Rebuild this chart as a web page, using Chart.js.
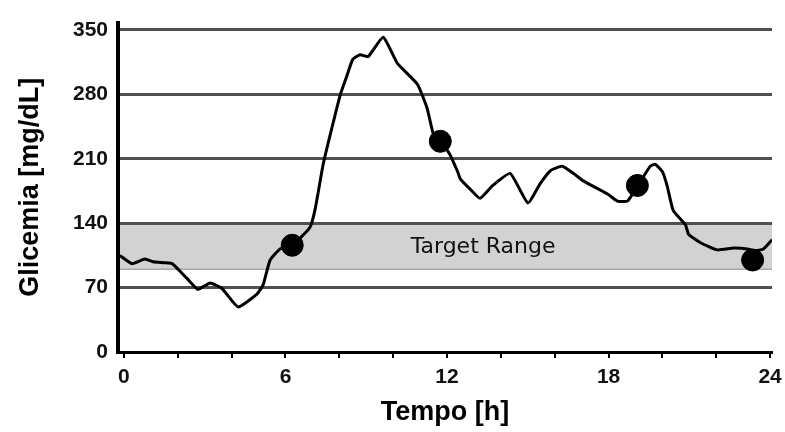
<!DOCTYPE html>
<html>
<head>
<meta charset="utf-8">
<script src="https://cdn.jsdelivr.net/npm/chart.js@4/dist/chart.umd.min.js"></script>
<style>
  html, body { margin: 0; padding: 0; background: #fff; }
  #wrap { width: 785px; height: 432px; }
</style>
</head>
<body>
<div id="wrap"><canvas id="c" width="785" height="432"></canvas></div>
<script>
// Continuous glucose trace over one day
const hours = [-0.15, 0.3, 0.78, 1.08, 1.5, 1.8, 2.34, 2.75, 3.2, 3.64, 4.24, 4.94, 5.17, 5.43, 5.8, 6.25,
  6.9, 7.1, 7.4, 7.66, 8.03, 8.28, 8.5, 8.77, 9.07, 9.63, 10.15, 10.9, 11.26, 11.5, 11.75,
  12.1, 12.38, 12.5, 12.86, 13.23, 13.7, 14.35, 15.0, 15.46, 15.84, 16.28, 16.7, 17.06, 17.95,
  18.33, 18.7, 19.07, 19.55, 19.74, 20.0, 20.18, 20.4, 20.86, 20.97, 21.4, 22.04, 22.64,
  23.16, 23.4, 23.75, 24.07];
const glucose = [105, 96, 101, 98, 97, 96, 80, 68, 75, 69, 49, 63, 73, 100, 112, 116,
  135, 155, 204, 236, 279, 300, 318, 323, 321, 342, 314, 291, 265, 236, 229,
  215, 197, 188, 177, 167, 181, 194, 162, 183, 197, 202, 194, 186, 172,
  164, 164, 180, 202, 204, 196, 180, 154, 138, 128, 119, 111, 113,
  112, 110, 112, 122];

// Finger-stick measurements
const sampleHours = [6.25, 11.75, 19.07, 23.35];
const sampleGlucose = [116, 229, 181, 100];

// Axis ticks and target band
const yTicks = [0, 70, 140, 210, 280, 350];
const xTicks = [0, 2, 4, 6, 8, 10, 12, 14, 16, 18, 20, 22, 24];
const xLabelled = [0, 6, 12, 18, 24];
const targetLow = 90;
const targetHigh = 140;
const targetLabel = 'Target Range';
const targetLabelHour = 13.34;
const targetLabelValue = 114;

const tracePoints = hours.map((h, i) => ({ x: h, y: glucose[i] }));
const samplePoints = sampleHours.map((h, i) => ({ x: h, y: sampleGlucose[i] }));

const targetBand = {
  id: 'targetBand',
  beforeDraw(chart) {
    const { ctx, chartArea, scales } = chart;
    const yTop = scales.y.getPixelForValue(targetHigh);
    const yBot = scales.y.getPixelForValue(targetLow);
    ctx.save();
    ctx.fillStyle = '#d2d2d2';
    ctx.fillRect(chartArea.left, yTop, chartArea.right - chartArea.left, yBot - yTop);
    ctx.strokeStyle = '#a8a8a8';
    ctx.lineWidth = 1.5;
    ctx.beginPath();
    ctx.moveTo(chartArea.left, yBot);
    ctx.lineTo(chartArea.right, yBot);
    ctx.stroke();
    ctx.restore();
  },
  beforeDatasetsDraw(chart) {
    const { ctx, scales } = chart;
    ctx.save();
    ctx.fillStyle = '#111';
    ctx.font = '22px "DejaVu Sans"';
    ctx.textAlign = 'center';
    ctx.textBaseline = 'middle';
    ctx.fillText(targetLabel, scales.x.getPixelForValue(targetLabelHour), scales.y.getPixelForValue(targetLabelValue));
    ctx.restore();
  }
};

const tickFont = { family: '"Liberation Sans", Arial, sans-serif', size: 21, weight: 'bold', lineHeight: 1.2 };
const titleFont = { family: '"Liberation Sans", Arial, sans-serif', size: 27, weight: 'bold', lineHeight: 1.2 };

new Chart(document.getElementById('c'), {
  type: 'line',
  data: {
    datasets: [
      {
        data: tracePoints,
        borderColor: '#000',
        borderWidth: 3,
        pointRadius: 0,
        tension: 0.15,
        fill: false,
        order: 2
      },
      {
        type: 'scatter',
        data: samplePoints,
        backgroundColor: '#000',
        borderColor: '#000',
        pointRadius: 11,
        pointHoverRadius: 11,
        order: 1
      }
    ]
  },
  options: {
    responsive: false,
    animation: false,
    events: [],
    layout: { padding: { top: 14, right: 13, left: 0, bottom: 0 } },
    plugins: { legend: { display: false }, tooltip: { enabled: false } },
    scales: {
      x: {
        type: 'linear',
        min: -0.22,
        max: 24.07,
        afterBuildTicks(scale) { scale.ticks = xTicks.map(v => ({ value: v })); },
        afterFit(scale) { scale.height = 80; scale.paddingLeft = 0; scale.paddingRight = 0; },
        ticks: {
          color: '#111',
          font: tickFont,
          padding: 7,
          maxRotation: 0,
          autoSkip: false,
          callback: (v) => (xLabelled.includes(v) ? String(v) : '')
        },
        grid: { drawOnChartArea: false, drawTicks: true, tickLength: 6, color: '#000', lineWidth: 2 },
        border: { display: true, color: '#000', width: 3 },
        title: { display: true, text: 'Tempo [h]', color: '#000', font: titleFont, padding: { top: 0, bottom: 3 } }
      },
      y: {
        min: 0,
        max: 358,
        afterBuildTicks(scale) { scale.ticks = yTicks.map(v => ({ value: v })); },
        afterFit(scale) { scale.width = 118; },
        ticks: { color: '#111', font: tickFont, padding: 10 },
        grid: { drawTicks: false, color: '#505050', lineWidth: 3 },
        border: { display: true, color: '#000', width: 4 },
        title: { display: true, text: 'Glicemia [mg/dL]', color: '#000', font: titleFont, padding: { top: 14, bottom: 0 } }
      }
    }
  },
  plugins: [targetBand]
});
</script>
</body>
</html>
